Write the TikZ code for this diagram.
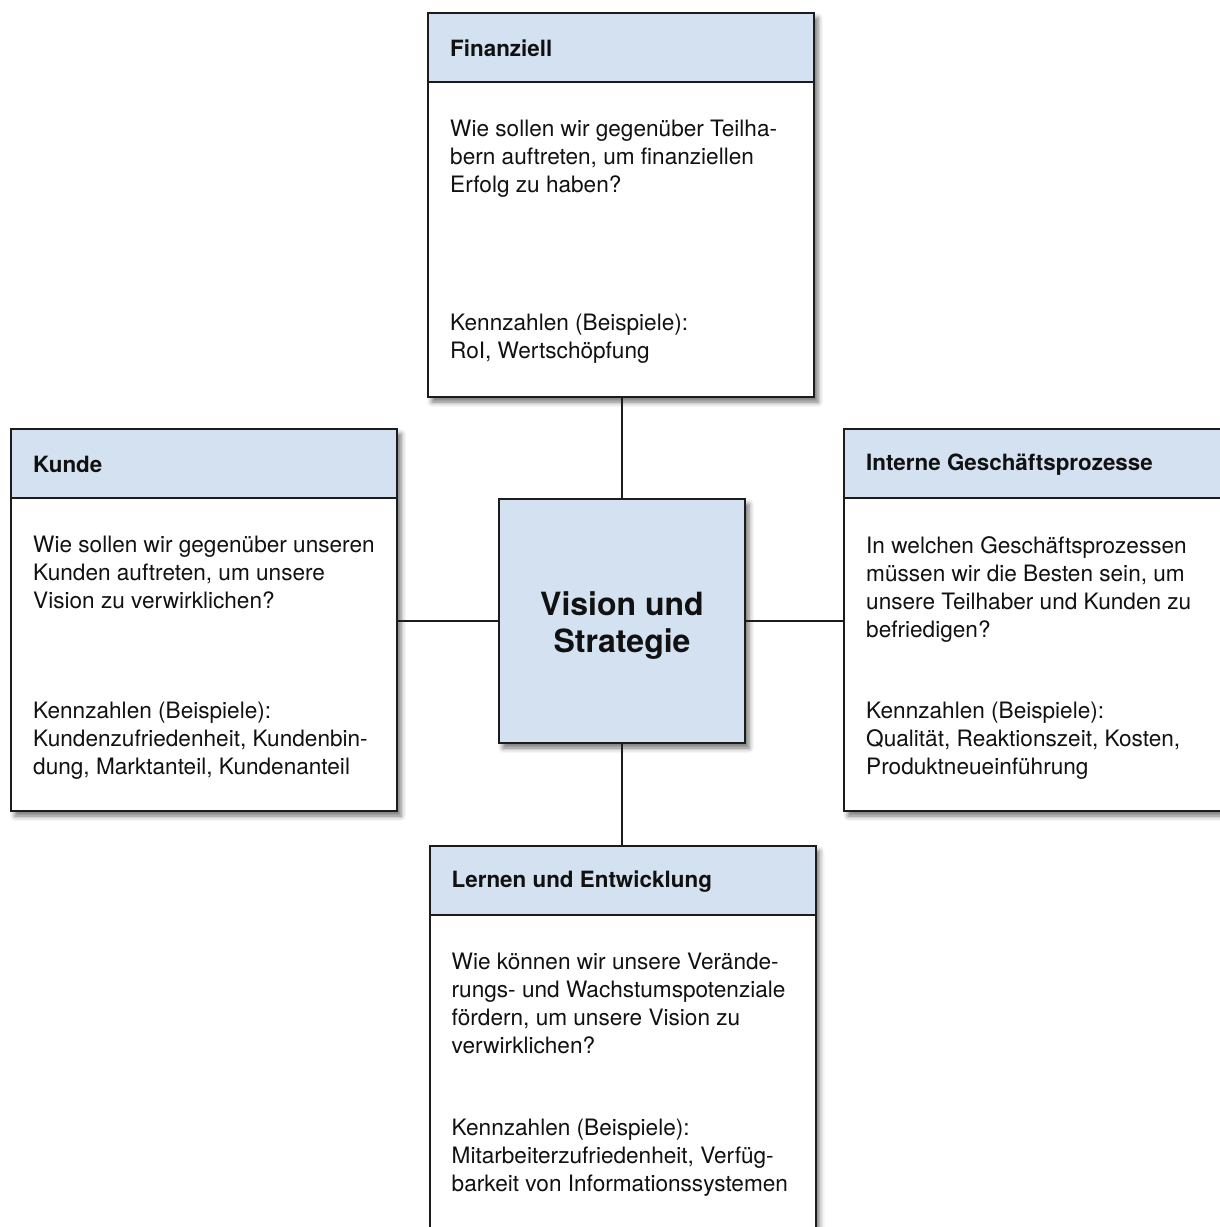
\documentclass[tikz,border=0pt]{standalone}
\usepackage{fontspec}
\setmainfont{TeX Gyre Heros}
\usetikzlibrary{calc,shadows.blur}
\definecolor{headblue}{HTML}{D3E1F1}
\definecolor{edge}{HTML}{1C1C1C}
\definecolor{ink}{HTML}{111111}

\begin{document}
\begin{tikzpicture}[x=1pt,y=-1pt,
  softshadow/.style={blur shadow={shadow xshift=4pt, shadow yshift=-5pt,
      shadow blur radius=5pt, shadow opacity=55}},
  card/.style={draw=edge, line width=2pt, fill=white, inner sep=0pt,
      minimum width=386pt, minimum height=#1, softshadow},
  cardhead/.style={draw=edge, line width=2pt, fill=headblue, inner sep=0pt,
      minimum width=386pt, minimum height=69pt, anchor=north},
  headtext/.style={anchor=west, inner sep=0pt, text=ink,
      font=\fontsize{22.4}{28}\selectfont\bfseries},
  bodytext/.style={anchor=north west, inner sep=0pt, align=left, text=ink,
      font=\fontsize{22.6}{28}\selectfont},
  visionbox/.style={draw=edge, line width=2pt, fill=headblue, inner sep=0pt,
      minimum width=246pt, minimum height=244pt, softshadow},
  link/.style={draw=edge, line width=1.6pt}
]
\useasboundingbox (0,0) rectangle (1220,1227);

% central box
\node[visionbox] (vis) at (622,621) {};
\node[align=center, inner sep=0pt, text=ink,
      font=\fontsize{32}{37}\selectfont\bfseries] (vist) at ($(vis.center)+(0,5)$)
  {Vision und\\Strategie};

% Finanziell
\node[card=384pt] (fin) at (621,205) {};
\node[cardhead] (finh) at (fin.north) {};
\node[headtext] (fint) at ($(finh.west)+(23,1)$) {Finanziell};
\node[bodytext] (finq) at ($(fin.north west)+(23,108)$)
  {Wie sollen wir gegenüber Teilha-\\bern auftreten, um finanziellen\\Erfolg zu haben?};
\node[bodytext] (fink) at ($(fin.north west)+(23,302)$)
  {Kennzahlen (Beispiele):\\RoI, Wertschöpfung};

% Kunde
\node[card=382pt] (kun) at (204,620) {};
\node[cardhead] (kunh) at (kun.north) {};
\node[headtext] (kunt) at ($(kunh.west)+(23,1)$) {Kunde};
\node[bodytext] (kunq) at ($(kun.north west)+(23,108)$)
  {Wie sollen wir gegenüber unseren\\Kunden auftreten, um unsere\\Vision zu verwirklichen?};
\node[bodytext] (kunk) at ($(kun.north west)+(23,274)$)
  {Kennzahlen (Beispiele):\\Kundenzufriedenheit, Kundenbin-\\dung, Marktanteil, Kundenanteil};

% Interne Geschäftsprozesse
\node[card=382pt] (int) at (1037,620) {};
\node[cardhead] (inth) at (int.north) {};
\node[headtext] (intt) at ($(inth.west)+(23,1)$) {Interne Geschäftsprozesse};
\node[bodytext] (intq) at ($(int.north west)+(23,108)$)
  {In welchen Geschäftsprozessen\\müssen wir die Besten sein, um\\unsere Teilhaber und Kunden zu\\befriedigen?};
\node[bodytext] (intk) at ($(int.north west)+(23,274)$)
  {Kennzahlen (Beispiele):\\Qualität, Reaktionszeit, Kosten,\\Produktneueinführung};

% Lernen und Entwicklung
\node[card=382pt] (ler) at (622.5,1037) {};
\node[cardhead] (lerh) at (ler.north) {};
\node[headtext] (lert) at ($(lerh.west)+(23,1)$) {Lernen und Entwicklung};
\node[bodytext] (lerq) at ($(ler.north west)+(23,108)$)
  {Wie können wir unsere Verände-\\rungs- und Wachstumspotenziale\\fördern, um unsere Vision zu\\verwirklichen?};
\node[bodytext] (lerk) at ($(ler.north west)+(23,274)$)
  {Kennzahlen (Beispiele):\\Mitarbeiterzufriedenheit, Verfüg-\\barkeit von Informationssystemen};

% connectors between the perspectives and the centre
\draw[link] (vis.north) -- (vis.north |- fin.south);
\draw[link] (vis.south) -- (vis.south |- ler.north);
\draw[link] (vis.west) -- (vis.west -| kun.east);
\draw[link] (vis.east) -- (vis.east -| int.west);
\end{tikzpicture}
\end{document}
